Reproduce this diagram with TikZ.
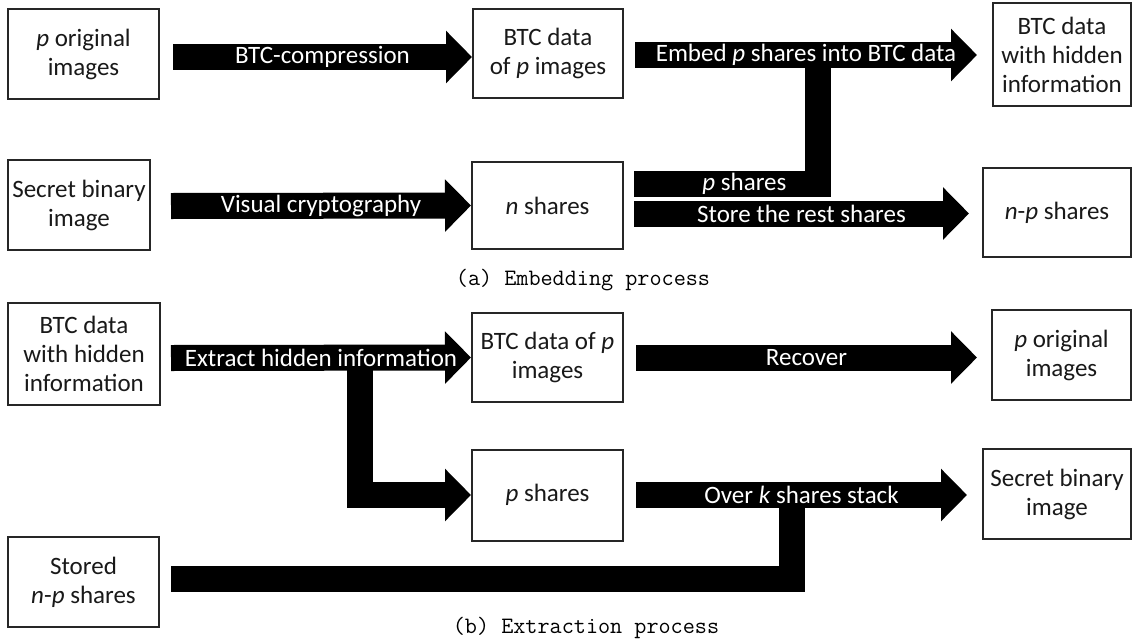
\documentclass[tikz,border=0pt]{standalone}
\usepackage{fontspec}
\setmainfont{Carlito}
\usetikzlibrary{arrows.meta}
\tikzset{
  box/.style={draw=black!85, line width=2pt, fill=white, inner sep=0pt, align=center,
    text=black!90, font=\fontsize{25}{29}\selectfont},
  blk/.style={draw=black, line width=26pt, line join=miter,
    -{Triangle[length=26pt,width=51pt]}},
  bar/.style={draw=black, line width=26pt, line join=miter},
  lbl/.style={text=white, inner sep=0pt, font=\fontsize{25}{29}\selectfont},
  captext/.style={inner sep=0pt, font=\ttfamily\fontsize{23.5}{26}\selectfont}
}
\begin{document}
\begin{tikzpicture}[x=1pt,y=-1pt]
\useasboundingbox[fill=white] (0,0) rectangle (1136,643);
% (a) boxes
\node[box, minimum width=151pt, minimum height=90pt] (A1) at (83.5,54) {\textit{p} original\\images};
\node[box, minimum width=150pt, minimum height=89pt] (A2) at (548,53.5) {BTC data\\of \textit{p} images};
\node[box, minimum width=138pt, minimum height=103pt] (A3) at (1062,54.5) {BTC data\\with hidden\\information};
\node[box, minimum width=142pt, minimum height=90pt] (A4) at (79,205) {Secret binary\\image};
\node[box, minimum width=151pt, minimum height=87pt] (A5) at (547.5,205.5) {\textit{n} shares};
\node[box, minimum width=148pt, minimum height=89pt] (A6) at (1057,212.5) {\textit{n}-\textit{p} shares};
% (b) boxes
\node[box, minimum width=152pt, minimum height=102pt] (B1) at (84,354) {BTC data\\with hidden\\information};
\node[box, minimum width=151pt, minimum height=89pt] (B2) at (547.5,357.5) {BTC data of \textit{p}\\images};
\node[box, minimum width=151pt, minimum height=91pt] (B3) at (547.5,495) {\textit{p} shares};
\node[box, minimum width=139pt, minimum height=90pt] (B4) at (1061.5,355) {\textit{p} original\\images};
\node[box, minimum width=148pt, minimum height=90pt] (B5) at (1057,494) {Secret binary\\image};
\node[box, minimum width=151pt, minimum height=90pt] (B6) at (83.5,582) {Stored\\\textit{n}-\textit{p} shares};
% junction points
\coordinate (J1) at (818,60);
\coordinate (J2) at (360,352);
\coordinate (J3) at (792,500);
% bent bars (drawn first)
\draw[bar] ([shift={(10,-21.5)}]A5.east) -| (J1) node[lbl, pos=0.3] {\textit{p} shares};
\draw[blk] (J2) |- (B3.west);
\draw[bar] ([shift={(11,-3)}]B6.east) -| (J3);
% straight arrows
\draw[blk] ([shift={(13,3)}]A1.east) -- ([yshift=-3.5pt]A2.west) node[lbl, midway] {BTC-compression};
\draw[blk] ([shift={(11,1.5)}]A2.east) -- ([shift={(-15,0.5)}]A3.west) node[lbl, midway] {Embed \textit{p} shares into BTC data};
\draw[blk] ([shift={(20,1)}]A4.east) -- (A5.west) node[lbl, midway] {Visual cryptography};
\draw[blk] ([shift={(10,8)}]A5.east) -- ([shift={(-13,1)}]A6.west) node[lbl, midway] {Store the rest shares};
\draw[blk] ([shift={(10,4)}]B1.east) -- (B2.west) node[lbl, midway] {Extract hidden information};
\draw[blk] ([xshift=12pt]B2.east) -- ([shift={(-14,2.5)}]B4.west) node[lbl, midway] {Recover};
\draw[blk] ([xshift=12pt]B3.east) -- ([shift={(-15,1)}]B5.west) node[lbl, midway] {Over \textit{k} shares stack};
% captions
\node[captext] (capa) at (583,280) {(a) Embedding process};
\node[captext] (capb) at (586,628) {(b) Extraction process};
\end{tikzpicture}
\end{document}
